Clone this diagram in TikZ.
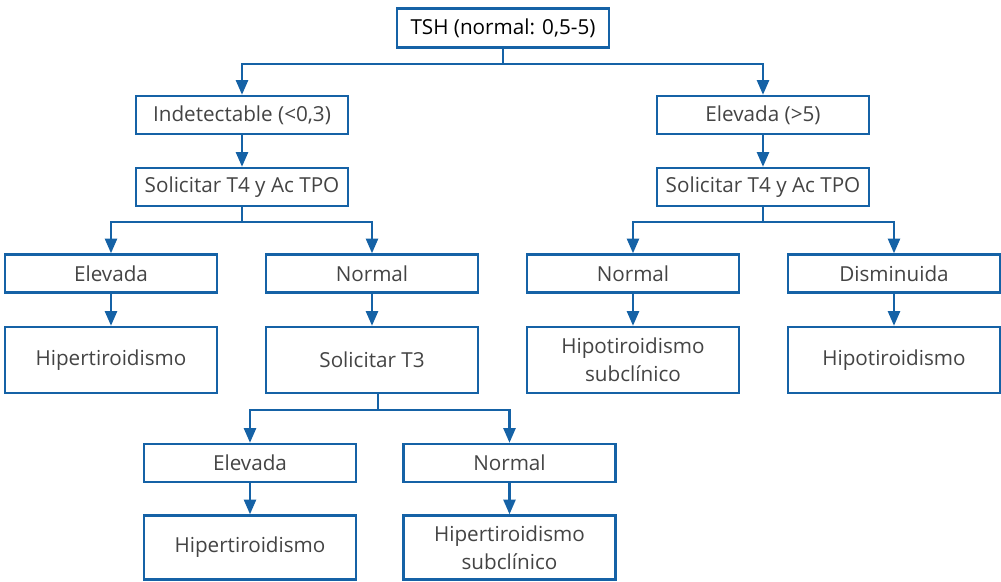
\documentclass[tikz,border=0pt]{standalone}
\usepackage{fontspec}
\setmainfont{Open Sans}
\usetikzlibrary{arrows.meta}
\definecolor{fblue}{HTML}{1562A6}
\definecolor{ftext}{HTML}{444444}
\begin{document}
\begin{tikzpicture}[x=0.75pt,y=-0.75pt,
  box/.style={draw=fblue,line width=1.8pt,fill=white,minimum width=212*0.75pt,minimum height=38*0.75pt,
    inner sep=0pt,align=center,text=ftext,font=\fontsize{15.5}{21}\selectfont},
  tall/.style={box,minimum height=66*0.75pt},
  arr/.style={draw=fblue,line width=1.8pt,-{Triangle[length=11pt,width=9pt]}}]
\useasboundingbox (0,0) rectangle (1001,582);
\node[box,text=black,minimum height=39*0.75pt] (tsh) at (503,28) {TSH (normal: 0,5-5)};
\node[box] (ind) at (242,115) {Indetectable (<0,3)};
\node[box] (sol1) at (242,187) {Solicitar T4 y Ac TPO};
\node[box] (ele) at (763,115) {Elevada (>5)};
\node[box] (sol2) at (763,187) {Solicitar T4 y Ac TPO};
\node[box] (e1) at (111,273.5) {Elevada};
\node[box] (n1) at (372,273.5) {Normal};
\node[tall] (h1) at (111,360) {Hipertiroidismo};
\node[tall] (st3) at (372,360) {Solicitar T3};
\node[box] (n2) at (633,273.5) {Normal};
\node[box] (d2) at (894,273.5) {Disminuida};
\node[tall] (hs2) at (633,360) {Hipotiroidismo\\subclínico};
\node[tall] (hp2) at (894,360) {Hipotiroidismo};
\node[box] (e3) at (250,463) {Elevada};
\node[box] (n3) at (509.5,463) {Normal};
\node[tall,minimum height=64*0.75pt] (h3) at (250,547.5) {Hipertiroidismo};
\node[tall,minimum height=64*0.75pt] (hs3) at (509.5,547.5) {Hipertiroidismo\\subclínico};
\draw[arr] (tsh.south) -- ++(0,15) -| (ind.north);
\draw[arr] (tsh.south) -- ++(0,15) -| (ele.north);
\draw[arr] (ind) -- (sol1);
\draw[arr] (ele) -- (sol2);
\draw[arr] (sol1.south) -- ++(0,15) -| (e1.north);
\draw[arr] (sol1.south) -- ++(0,15) -| (n1.north);
\draw[arr] (sol2.south) -- ++(0,15) -| (n2.north);
\draw[arr] (sol2.south) -- ++(0,15) -| (d2.north);
\draw[arr] (e1) -- (h1);
\draw[arr] (n1) -- (st3);
\draw[arr] (n2) -- (hs2);
\draw[arr] (d2) -- (hp2);
\draw[arr] ([xshift=6*0.75pt]st3.south) -- ++(0,16) -| (e3.north);
\draw[arr] ([xshift=6*0.75pt]st3.south) -- ++(0,16) -| (n3.north);
\draw[arr] (e3) -- (h3);
\draw[arr] (n3) -- (hs3);
\end{tikzpicture}
\end{document}
